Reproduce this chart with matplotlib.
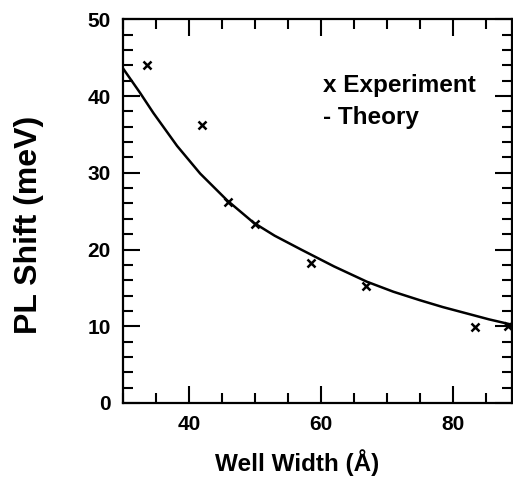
import matplotlib
matplotlib.use("Agg")
import matplotlib.pyplot as plt
from matplotlib.ticker import MultipleLocator

plt.rcParams['font.family'] = ['Liberation Sans', 'DejaVu Sans']
plt.rcParams['font.weight'] = 'bold'
plt.rcParams['axes.labelweight'] = 'bold'

# Experimental points (Well width in Angstrom, PL shift in meV)
exp_x = [33.6, 42.0, 45.9, 50.0, 58.5, 66.9, 83.4, 88.4]
exp_y = [44.1, 36.2, 26.2, 23.3, 18.2, 15.2, 9.9, 10.0]

# Theory curve
theory_x = [30, 32.6, 34.6, 38.2, 41.7, 45.8, 49.8, 53, 57, 62,
            67, 71, 75, 78.5, 82, 85.5, 89]
theory_y = [43.6, 40.4, 37.8, 33.5, 29.9, 26.4, 23.5, 21.8, 20.0, 17.8,
            15.8, 14.5, 13.4, 12.5, 11.7, 10.9, 10.2]

x_ticks = [40, 60, 80]
y_ticks = [0, 10, 20, 30, 40, 50]

fig = plt.figure(figsize=(5.13, 4.90), dpi=100)
ax = fig.add_axes([0.2398, 0.1776, 0.7582, 0.783])

ax.plot(theory_x, theory_y, color='black', lw=1.8,
        solid_capstyle='round', solid_joinstyle='round')
ax.plot(exp_x, exp_y, linestyle='none', marker='x', color='black',
        markersize=5.5, markeredgewidth=1.8)

ax.set_xlim(30, 89)
ax.set_ylim(0, 50)
ax.set_xticks(x_ticks)
ax.set_yticks(y_ticks)
ax.xaxis.set_minor_locator(MultipleLocator(5))
ax.yaxis.set_minor_locator(MultipleLocator(2))

ax.tick_params(which='both', direction='in', top=True, right=True,
               width=1.5, color='black')
ax.tick_params(which='major', length=12, labelsize=15, pad=9)
ax.tick_params(which='minor', length=7)

for s in ax.spines.values():
    s.set_linewidth(1.6)

ax.set_xlabel('Well Width (Å)', fontsize=17.5, va='center', ha='center')
ax.xaxis.set_label_coords(0.447, -0.156)
ax.set_ylabel('PL Shift (meV)', fontsize=23, va='center', ha='center')
ax.yaxis.set_label_coords(-0.242, 0.464)

ax.text(0.514, 0.828, 'x Experiment', transform=ax.transAxes,
        fontsize=17.5, ha='left', va='center')
ax.text(0.514, 0.745, '- Theory', transform=ax.transAxes,
        fontsize=17.5, ha='left', va='center')

fig.savefig('out.png', dpi=100)
